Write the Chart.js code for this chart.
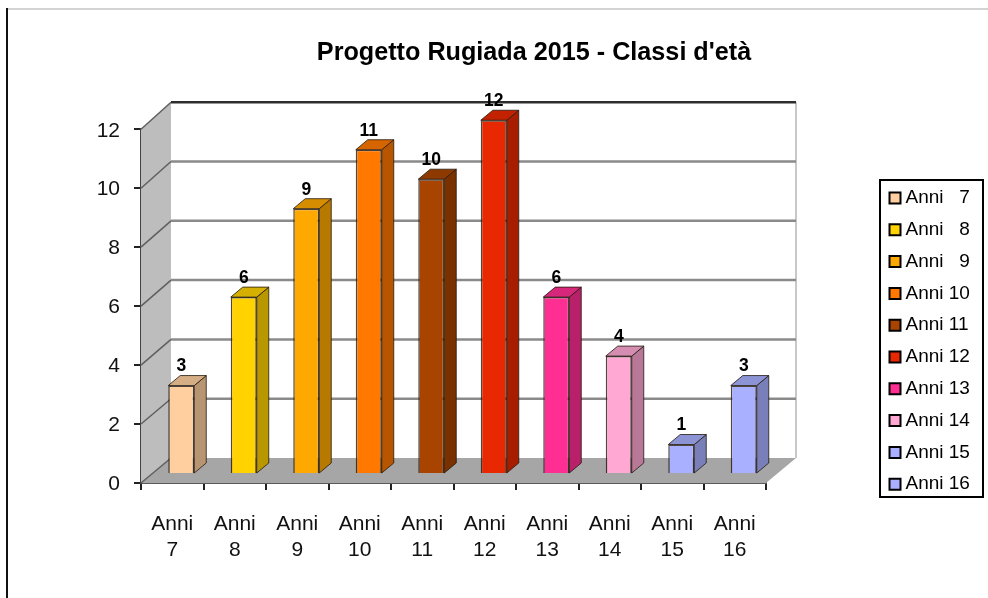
<!DOCTYPE html>
<html>
<head>
<meta charset="utf-8">
<style>html,body{margin:0;padding:0;background:#fff}canvas{display:block;filter:blur(0.45px)}</style>
<script src="https://cdn.jsdelivr.net/npm/chart.js@4"></script>
</head>
<body>
<canvas id="c" width="988" height="598"></canvas>
<script>
const categories = [['Anni','7'],['Anni','8'],['Anni','9'],['Anni','10'],['Anni','11'],['Anni','12'],['Anni','13'],['Anni','14'],['Anni','15'],['Anni','16']];
const legendLabels = ['Anni   7','Anni   8','Anni   9','Anni 10','Anni 11','Anni 12','Anni 13','Anni 14','Anni 15','Anni 16'];
const values = [3,6,9,11,10,12,6,4,1,3];
const barColors = ['#FFCF9F','#FFD200','#FFA800','#FF7800','#A84400','#E82800','#FF2E93','#FFA8D4','#A8B0FF','#A8B0FF'];
const yTicks = [0,2,4,6,8,10,12];
const titleText = "Progetto Rugiada 2015 - Classi d'età";

const FONT = '"Liberation Sans", Arial, sans-serif';
const BAR_SHIFT = {x: 9, y: -9};
const BAR_DEPTH = {x: 12, y: -10};
const WALL = {x: 30, yTop: -27, yBottom: -25};
const LEGEND_BOX = {left: 880, top: 180, right: 983, bottom: 497};
const LEGEND_PAD = 12.8;

function shade(hex, f) {
  const n = parseInt(hex.slice(1), 16);
  const c = [n >> 16, (n >> 8) & 255, n & 255].map(v => Math.round(v * f));
  return `rgb(${c[0]},${c[1]},${c[2]})`;
}
function poly(ctx, pts, fill, stroke, lw) {
  ctx.beginPath();
  pts.forEach((p, i) => i ? ctx.lineTo(p[0], p[1]) : ctx.moveTo(p[0], p[1]));
  ctx.closePath();
  if (fill) { ctx.fillStyle = fill; ctx.fill(); }
  if (stroke) { ctx.strokeStyle = stroke; ctx.lineWidth = lw; ctx.stroke(); }
}
function line(ctx, x1, y1, x2, y2, color, lw) {
  ctx.beginPath(); ctx.moveTo(x1, y1); ctx.lineTo(x2, y2);
  ctx.strokeStyle = color; ctx.lineWidth = lw; ctx.stroke();
}

const scene3d = {
  id: 'scene3d',
  beforeLayout(chart) {
    const l = chart.legend;
    if (l && !l.reserved) {
      const fit = l.fit;
      l.fit = function () { fit.call(this); this.width = 222; };
      l.reserved = true;
    }
  },
  afterLayout(chart) {
    const l = chart.legend;
    l.left = LEGEND_BOX.left + 1.2; l.right = LEGEND_BOX.right;
    l.top = 175.7; l.bottom = LEGEND_BOX.bottom + 10;
    l.width = l.right - l.left; l.height = l.bottom - l.top;
  },
  beforeDraw(chart) {
    const ctx = chart.ctx;
    ctx.save();
    ctx.fillStyle = '#fff'; ctx.fillRect(0, 0, chart.width, chart.height);
    line(ctx, 6, 9, 988, 9, '#c4c4c4', 1.5);
    ctx.fillStyle = '#111'; ctx.fillRect(6, 8, 2, 590);
    const b = LEGEND_BOX;
    ctx.strokeStyle = '#000'; ctx.lineWidth = 2;
    ctx.strokeRect(b.left, b.top, b.right - b.left, b.bottom - b.top);
    ctx.restore();
  },
  beforeDatasetsDraw(chart) {
    const ctx = chart.ctx, y = chart.scales.y, a = chart.chartArea;
    const backY = v => { const p = y.getPixelForValue(v); return p + WALL.yBottom + (WALL.yTop - WALL.yBottom) * (y.bottom - p) / (y.bottom - y.top); };
    const bx = a.left + WALL.x, bxr = a.right + WALL.x;
    ctx.save();
    poly(ctx, [[a.left, y.top], [bx, backY(y.max)], [bx, backY(0)], [a.left, y.bottom]], '#bdbdbd');
    poly(ctx, [[a.left, y.bottom], [a.right, y.bottom], [bxr, backY(0)], [bx, backY(0)]], '#a6a6a6');
    line(ctx, bxr, backY(y.max), bxr, backY(0), '#c8c8c8', 2);
    yTicks.forEach(v => {
      const by = backY(v);
      line(ctx, a.left, y.getPixelForValue(v), bx, by, '#5f5f5f', 1.5);
      if (v > 0 && v < y.max) line(ctx, bx, by, bxr, by, '#8a8a8a', 2.5);
    });
    line(ctx, bx, backY(y.max), bxr, backY(y.max), '#2e2e2e', 2.5);
    const meta = chart.getDatasetMeta(0);
    meta.data.forEach((el, i) => {
      const l = el.x - el.width / 2 + BAR_SHIFT.x, r = el.x + el.width / 2 + BAR_SHIFT.x;
      const t = el.y + BAR_SHIFT.y, bot = el.base + BAR_SHIFT.y;
      const dx = BAR_DEPTH.x, dy = BAR_DEPTH.y, edge = 'rgba(35,25,15,0.8)';
      poly(ctx, [[r, t], [r + dx, t + dy], [r + dx, bot + dy], [r, bot]], shade(barColors[i], 0.72), edge, 1);
      poly(ctx, [[l, t], [l + dx, t + dy], [r + dx, t + dy], [r, t]], shade(barColors[i], 0.84), edge, 1);
    });
    ctx.restore();
    ctx.save();
    ctx.translate(BAR_SHIFT.x, BAR_SHIFT.y);
  },
  afterDatasetsDraw(chart) {
    const ctx = chart.ctx;
    ctx.restore();
    ctx.save();
    ctx.font = 'bold 17.5px ' + FONT;
    ctx.fillStyle = '#000';
    ctx.textAlign = 'center';
    ctx.textBaseline = 'middle';
    chart.getDatasetMeta(0).data.forEach((el, i) => {
      ctx.fillText(String(values[i]), el.x + BAR_SHIFT.x, el.y + BAR_SHIFT.y - 19);
    });
    ctx.restore();
  }
};

new Chart(document.getElementById('c'), {
  type: 'bar',
  data: {
    labels: categories,
    datasets: [{
      data: values,
      backgroundColor: barColors,
      borderColor: 'rgba(35,25,15,0.8)',
      borderWidth: 1.5,
      barPercentage: 0.416,
      categoryPercentage: 1,
      clip: false
    }]
  },
  options: {
    responsive: false,
    animation: false,
    events: [],
    layout: {padding: {left: 80, top: 0, right: 0, bottom: 0}},
    plugins: {
      tooltip: {enabled: false},
      title: {
        display: true,
        text: titleText,
        color: '#000',
        font: {family: FONT, size: 25.2, weight: 'bold'},
        padding: {top: 37.5, bottom: 61.5}
      },
      legend: {
        display: true,
        position: 'right',
        align: 'start',
        labels: {
          color: '#000',
          font: {family: FONT, size: 19},
          usePointStyle: true,
          boxWidth: 2,
          boxHeight: 11,
          padding: LEGEND_PAD,
          generateLabels: () => legendLabels.map((t, i) => ({
            text: t,
            fillStyle: barColors[i],
            strokeStyle: '#000',
            lineWidth: 2,
            pointStyle: 'rect',
            index: i
          }))
        }
      }
    },
    scales: {
      x: {
        offset: true,
        grid: {display: true, drawOnChartArea: false, drawTicks: true, tickLength: 7, offset: true, color: '#222', lineWidth: 2},
        border: {display: true, color: '#5a5a5a', width: 2},
        ticks: {
          color: '#111',
          autoSkip: false,
          maxRotation: 0,
          padding: 21,
          font: {family: FONT, size: 21, lineHeight: 1.24}
        },
        afterFit(s) { s.height = 115; }
      },
      y: {
        min: 0,
        max: 12,
        grid: {display: true, drawOnChartArea: false, drawTicks: true, tickLength: 7, color: '#222', lineWidth: 2},
        border: {display: true, color: '#444', width: 2},
        ticks: {
          color: '#111',
          stepSize: 2,
          padding: 14,
          labelOffset: 1.5,
          font: {family: FONT, size: 21}
        },
        afterFit(s) { s.width = 61; }
      }
    }
  },
  plugins: [scene3d]
});
</script>
</body>
</html>
